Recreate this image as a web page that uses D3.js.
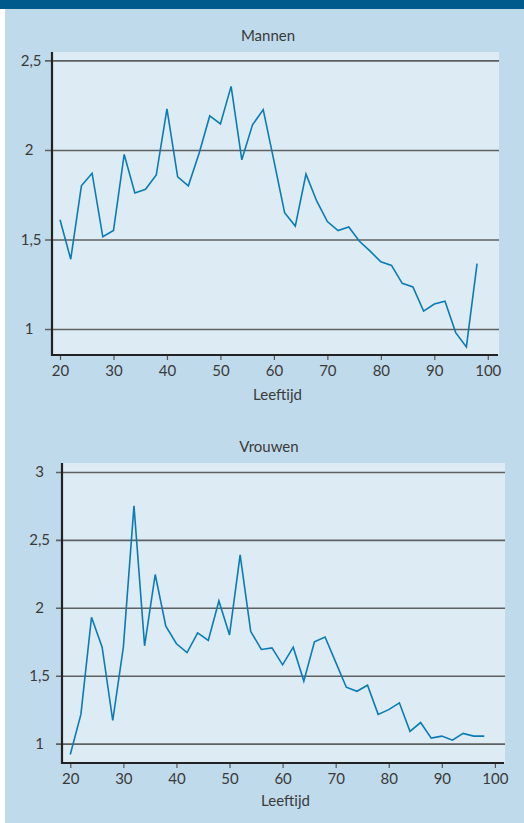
<!DOCTYPE html>
<html>
<head>
<meta charset="utf-8">
<script src="https://cdn.jsdelivr.net/npm/d3@7"></script>
<style>
  html, body { margin: 0; padding: 0; background: #ffffff; }
  svg { display: block; }
</style>
</head>
<body>
<div id="vis"></div>
<script>
// Leeftijd-curves, mannen en vrouwen
const ages = [20, 22, 24, 26, 28, 30, 32, 34, 36, 38,
              40, 42, 44, 46, 48, 50, 52, 54, 56, 58,
              60, 62, 64, 66, 68, 70, 72, 74, 76, 78,
              80, 82, 84, 86, 88, 90, 92, 94, 96, 98];

const menValues = [1.61, 1.39, 1.80, 1.87, 1.515, 1.55, 1.975, 1.76, 1.78, 1.86,
                   2.23, 1.85, 1.80, 1.98, 2.19, 2.145, 2.355, 1.945, 2.14, 2.225,
                   1.94, 1.65, 1.575, 1.865, 1.715, 1.60, 1.55, 1.57, 1.49, 1.435,
                   1.375, 1.355, 1.255, 1.235, 1.10, 1.14, 1.155, 0.98, 0.90, 1.365];

const womenValues = [0.92, 1.215, 1.93, 1.71, 1.17, 1.71, 2.75, 1.72, 2.245, 1.865,
                     1.735, 1.67, 1.815, 1.76, 2.05, 1.80, 2.39, 1.825, 1.693, 1.705,
                     1.58, 1.71, 1.46, 1.75, 1.785, 1.60, 1.415, 1.385, 1.43, 1.215,
                     1.25, 1.30, 1.09, 1.155, 1.04, 1.055, 1.025, 1.075, 1.055, 1.055];

const xTicks = [20, 30, 40, 50, 60, 70, 80, 90, 100];
const menYTicks = [1, 1.5, 2, 2.5];
const womenYTicks = [1, 1.5, 2, 2.5, 3];

const width = 524;
const height = 823;
const font = "Lato, 'Open Sans', sans-serif";
const textColor = "#3a3a3a";
const lineColor = "#0b7bb4";

const svg = d3.select("#vis")
  .append("svg")
  .attr("width", width)
  .attr("height", height);

// background panel + top band
svg.append("rect")
  .attr("x", 5).attr("y", 0)
  .attr("width", width - 5).attr("height", height)
  .attr("fill", "#bfdaeb");

svg.append("rect")
  .attr("x", 0).attr("y", 0)
  .attr("width", width).attr("height", 9)
  .attr("fill", "#005a8b");

const fmt = d => String(d).replace(".", ",");

function drawPanel(cfg) {
  const x = d3.scaleLinear().domain(cfg.xDomain).range([cfg.left, cfg.right]);
  const y = d3.scaleLinear().domain(cfg.yDomain).range([cfg.bottom, cfg.top]);

  // plot area
  svg.append("rect")
    .attr("x", cfg.left).attr("y", cfg.top)
    .attr("width", cfg.right - cfg.left)
    .attr("height", cfg.bottom - cfg.top)
    .attr("fill", "#dcebf4");

  // horizontal grid lines (with small tick outside the axis)
  const grid = svg.append("g")
    .attr("transform", `translate(${cfg.right},0)`)
    .call(d3.axisLeft(y).tickValues(cfg.yTicks).tickSize(cfg.right - cfg.tickStart).tickFormat(""));
  grid.select(".domain").remove();
  grid.selectAll("line")
    .attr("stroke", "#5f6062")
    .attr("stroke-width", 1.6);

  // y labels
  svg.append("g").selectAll("text")
    .data(cfg.yTicks)
    .join("text")
    .attr("x", d => Number.isInteger(d) ? cfg.labelEnd - cfg.intShift : cfg.labelEnd)
    .attr("y", d => y(d))
    .attr("dy", "0.36em")
    .attr("text-anchor", "end")
    .attr("fill", textColor)
    .style("font-family", font)
    .style("font-size", "15px")
    .text(fmt);

  // x axis
  const xAxis = svg.append("g")
    .attr("transform", `translate(0,${cfg.bottom})`)
    .call(d3.axisBottom(x).tickValues(xTicks).tickSize(5).tickPadding(5));
  xAxis.select(".domain").remove();
  xAxis.selectAll("line").attr("stroke", "#555").attr("stroke-width", 1.2);
  xAxis.selectAll("text")
    .attr("fill", textColor)
    .style("font-family", font)
    .style("font-size", "15px");

  // axis lines
  svg.append("line")
    .attr("x1", cfg.left).attr("x2", cfg.axisRight)
    .attr("y1", cfg.bottom).attr("y2", cfg.bottom)
    .attr("stroke", "#222").attr("stroke-width", 2.2);
  svg.append("line")
    .attr("x1", cfg.left).attr("x2", cfg.left)
    .attr("y1", cfg.top).attr("y2", cfg.bottom + 1)
    .attr("stroke", "#222").attr("stroke-width", 2.2);

  // data line
  const line = d3.line()
    .x((d, i) => x(ages[i]))
    .y(d => y(d));
  svg.append("path")
    .datum(cfg.values)
    .attr("d", line)
    .attr("fill", "none")
    .attr("stroke", lineColor)
    .attr("stroke-width", 1.6)
    .attr("stroke-linejoin", "miter");

  // title
  svg.append("text")
    .attr("x", cfg.titleX)
    .attr("y", cfg.titleY)
    .attr("text-anchor", "middle")
    .attr("fill", textColor)
    .style("font-family", font)
    .style("font-size", "15px")
    .text(cfg.title);

  // x label
  svg.append("text")
    .attr("x", (cfg.left + cfg.right) / 2 + 2)
    .attr("y", cfg.xLabelY)
    .attr("text-anchor", "middle")
    .attr("fill", textColor)
    .style("font-family", font)
    .style("font-size", "15px")
    .text("Leeftijd");
}

drawPanel({
  title: "Mannen", values: menValues, yTicks: menYTicks,
  left: 52, right: 499, axisRight: 498, top: 52, bottom: 355,
  xDomain: [18.5, 102.1], yDomain: [0.855, 2.547],
  tickStart: 45, labelEnd: 41.5, intShift: 8,
  titleX: 268, titleY: 41, xLabelY: 400
});

drawPanel({
  title: "Vrouwen", values: womenValues, yTicks: womenYTicks,
  left: 62, right: 505, axisRight: 504, top: 463, bottom: 763,
  xDomain: [18.44, 101.9], yDomain: [0.857, 3.066],
  tickStart: 56, labelEnd: 50, intShift: 6,
  titleX: 269, titleY: 452, xLabelY: 806
});
</script>
</body>
</html>
